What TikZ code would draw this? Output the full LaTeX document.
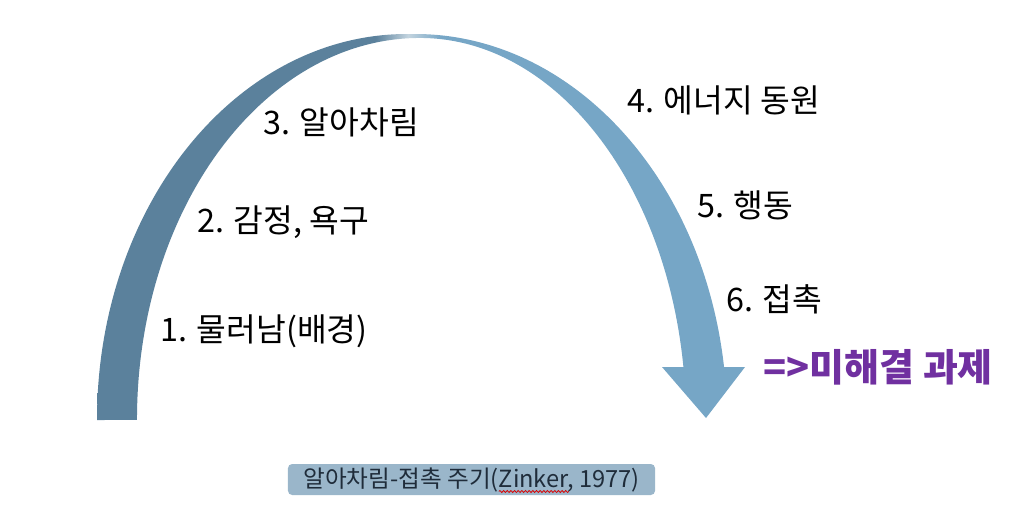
\documentclass[tikz,border=0pt]{standalone}
\usepackage{fontspec}
\setmainfont{Noto Sans CJK KR}
\usetikzlibrary{decorations.pathmorphing}

\definecolor{bandL}{HTML}{5B819C}
\definecolor{bandHi}{HTML}{C3D4DF}
\definecolor{bandR}{HTML}{76A6C6}
\definecolor{capfill}{HTML}{9AB6CA}
\definecolor{captext}{HTML}{1F2C3A}
\definecolor{open}{HTML}{7030A0}

\pgfdeclarehorizontalshading{bandshade}{100bp}{color(0bp)=(bandL); color(25bp)=(bandL);
  color(46.5bp)=(bandL); color(49bp)=(bandHi); color(51.5bp)=(bandR); color(100bp)=(bandR)}

\newcommand{\capfont}{\fontsize{16.8}{20}\selectfont}
\newlength{\capW}\newlength{\capA}\newlength{\capZ}

\begin{document}
\settowidth{\capW}{\capfont 알아차림-접촉 주기(Zinker, 1977)}%
\settowidth{\capA}{\capfont 알아차림-접촉 주기(}%
\settowidth{\capZ}{\capfont Zinker}%
\begin{tikzpicture}[x=0.025cm, y=0.025cm,
  lbl/.style={anchor=west, inner sep=0pt, font=\fontsize{23}{26}\selectfont},
  note/.style={anchor=west, inner sep=0pt, text=open, font=\fontsize{27}{30}\selectfont\bfseries},
  caption/.style={fill=capfill, rounded corners=3pt, inner sep=0pt,
                  minimum width=9.175cm, minimum height=0.775cm, text=captext, font=\capfont},
  squiggle/.style={draw=red!85!black, line width=0.55pt, decorate,
                   decoration={snake, amplitude=0.7pt, segment length=2.6pt}}]
\useasboundingbox (0,0) rectangle (1036,529);

% the cycle: one twisted band, dark on the way up, light on the way down
\shade[shading=bandshade]
  (97,109) arc[start angle=180, end angle=90, x radius=310, y radius=386]
  -- (415,495) arc[start angle=90, end angle=7.89, x radius=312, y radius=386]
  -- (745,162) -- (706,111) -- (662,162) -- (683.4,162)
  arc[start angle=7.97, end angle=90, x radius=266, y radius=382]
  arc[start angle=90, end angle=180, x radius=283, y radius=382]
  -- cycle;

\node[lbl] (withdraw) at (160,198) {1. 물러남(배경)};
\node[lbl] (feeling)  at (197,307) {2. 감정, 욕구};
\node[lbl] (aware)    at (263,407) {3. 알아차림};
\node[lbl] (energy)   at (627,429) {4. 에너지 동원};
\node[lbl] (action)   at (697,324) {5. 행동};
\node[lbl] (contact)  at (726,230) {6. 접촉};
\node[note] (unfinished) at (763,162) {=>미해결 과제};

\node[caption] (source) at (471.5,49.5) {알아차림-접촉 주기(Zinker, 1977)};
\coordinate (zstart) at ([xshift=-0.5\capW+\capA, yshift=-3.2pt]source.base);
\draw[squiggle] (zstart) -- ++(\capZ,0);
\end{tikzpicture}
\end{document}
